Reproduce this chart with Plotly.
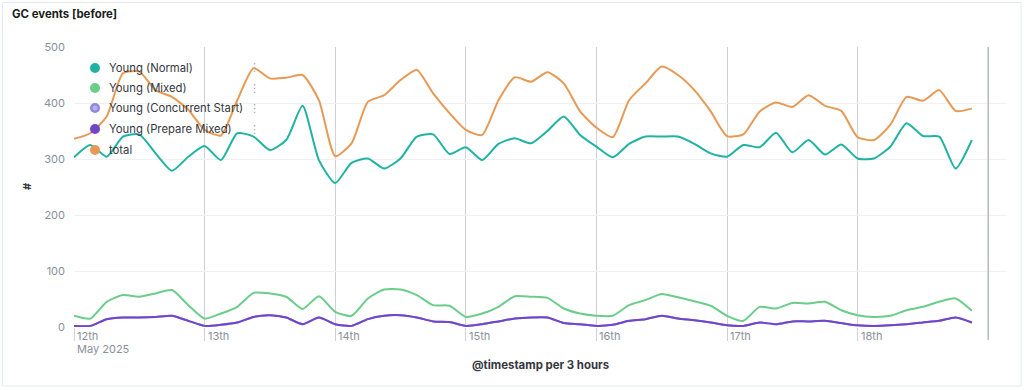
import pandas as pd
import plotly.graph_objects as go

# ---- data (3-hour buckets, 12 May 2025 00:00 -> 18 May 2025 21:00) ----
timestamps = pd.date_range("2025-05-12 00:00", periods=56, freq="3h")

young_normal = [303, 325, 304, 340, 344, 310, 279, 304,
                323, 298, 346, 340, 316, 334, 395, 298,
                257, 293, 301, 283, 301, 340, 344, 309,
                321, 298, 327, 337, 328, 350, 376, 343,
                322, 303, 327, 340, 340, 340, 327, 310,
                304, 325, 321, 347, 312, 334, 308, 326,
                301, 301, 322, 364, 341, 340, 283, 334]

young_mixed = [20, 15, 45, 57, 54, 60, 66, 39,
               15, 24, 36, 61, 60, 54, 32, 55,
               27, 20, 51, 67, 67, 57, 39, 38,
               18, 24, 36, 55, 54, 52, 33, 24,
               20, 20, 39, 48, 59, 53, 46, 38,
               20, 11, 36, 33, 43, 42, 45, 30,
               21, 18, 20, 30, 36, 45, 51, 29]

young_concurrent_start = [2, 2, 14, 17, 17, 18, 20, 11,
                          2, 4, 8, 18, 21, 17, 5, 17,
                          5, 2, 14, 20, 21, 17, 10, 9,
                          2, 5, 10, 15, 17, 17, 7, 5,
                          2, 4, 11, 14, 20, 15, 12, 8,
                          3, 2, 8, 5, 10, 10, 11, 7,
                          3, 2, 3, 5, 8, 11, 17, 8]

young_prepare_mixed = [2, 2, 14, 17, 17, 18, 20, 11,
                       2, 4, 8, 18, 21, 17, 5, 17,
                       5, 2, 14, 20, 21, 17, 10, 9,
                       2, 5, 10, 15, 17, 17, 7, 5,
                       2, 4, 11, 14, 20, 15, 12, 8,
                       3, 2, 8, 5, 10, 10, 11, 7,
                       3, 2, 3, 5, 8, 11, 17, 8]

total = [336, 346, 376, 453, 456, 423, 411, 388,
         352, 342, 405, 462, 444, 445, 450, 405,
         305, 328, 402, 414, 441, 459, 417, 382,
         352, 343, 405, 446, 438, 455, 435, 385,
         356, 339, 405, 435, 465, 450, 423, 385,
         341, 344, 385, 401, 393, 414, 395, 386,
         339, 334, 361, 411, 404, 423, 386, 390]

series_names = ["Young (Normal)", "Young (Mixed)", "Young (Concurrent Start)",
                "Young (Prepare Mixed)", "total"]
series_values = [young_normal, young_mixed, young_concurrent_start,
                 young_prepare_mixed, total]
series_colors = ["#20b3a2", "#6ccd8b", "#8f88e0", "#7146c9", "#e69a55"]

day_ticks = pd.date_range("2025-05-12", "2025-05-18", freq="D")
day_labels = ["12th", "13th", "14th", "15th", "16th", "17th", "18th"]
domain_end = pd.Timestamp("2025-05-19 00:00")

title_text = "GC events [before]"
x_title = "@timestamp per 3 hours"
y_title = "#"

# ---- figure ----
W, H = 1024, 390
L, R, T, B = 74, 17, 47, 63
PW, PH = W - L - R, H - T - B


def px_x(p):
    return (p - L) / PW


def px_y(p):
    return (H - B - p) / PH


FONT = "Inter, Roboto, 'Open Sans', sans-serif"
fig = go.Figure()

for i in range(5):
    fig.add_trace(go.Scatter(
        x=timestamps, y=series_values[i], mode="lines",
        line=dict(color=series_colors[i], width=2, shape="spline", smoothing=0.6),
        name=series_names[i], showlegend=False, hoverinfo="x+y+name"))

annotations = []
shapes = [
    # card border
    dict(type="rect", xref="paper", yref="paper",
         x0=px_x(2.5), x1=px_x(1021), y0=px_y(386), y1=px_y(2.5),
         line=dict(color="#e3e8f2", width=1), fillcolor="rgba(0,0,0,0)",
         layer="below"),
    # domain end line
    dict(type="line", xref="x", yref="paper", x0=domain_end, x1=domain_end,
         y0=px_y(340), y1=1, line=dict(color="#b4b8bf", width=1.5)),
]

# legend (circle markers + labels) inside the plot, top-left
legend_rows = [68, 88, 108, 129, 150]
for k, (name, col, yy) in enumerate(zip(series_names, series_colors, legend_rows)):
    shapes.append(dict(type="circle", xref="paper", yref="paper",
                       xsizemode="pixel", ysizemode="pixel",
                       xanchor=px_x(95), yanchor=px_y(yy),
                       x0=-5, x1=5, y0=-5, y1=5,
                       fillcolor=col, line=dict(width=0)))
    if k == 2:  # hatched look for the concurrent start marker
        shapes.append(dict(type="circle", xref="paper", yref="paper",
                           xsizemode="pixel", ysizemode="pixel",
                           xanchor=px_x(95), yanchor=px_y(yy),
                           x0=-2.5, x1=2.5, y0=-2.5, y1=2.5,
                           fillcolor="rgba(255,255,255,0.35)", line=dict(width=0)))
    annotations.append(dict(x=px_x(107), xref="paper", y=px_y(yy), yref="paper",
                            text=name, showarrow=False, xanchor="left",
                            yanchor="middle",
                            font=dict(family=FONT, size=11.3, color="#343741")))
# legend action icons
for yy in legend_rows[:4]:
    annotations.append(dict(x=px_x(254), xref="paper", y=px_y(yy), yref="paper",
                            text="⋮", showarrow=False, xanchor="center",
                            yanchor="middle",
                            font=dict(family="DejaVu Sans", size=11, color="#98a2b3")))

# x tick labels (left aligned next to the day gridline)
for d, lab in zip(day_ticks, day_labels):
    annotations.append(dict(x=d, xref="x", y=px_y(336), yref="paper",
                            text=lab, showarrow=False, xanchor="left",
                            yanchor="middle", xshift=1,
                            font=dict(family=FONT, size=11, color="#8a909b")))
annotations.append(dict(x=day_ticks[0], xref="x", y=px_y(349), yref="paper",
                        text="May 2025", showarrow=False, xanchor="left",
                        yanchor="middle", xshift=1,
                        font=dict(family=FONT, size=11, color="#8a909b")))
# titles
annotations.append(dict(x=px_x(10), xref="paper", y=px_y(14), yref="paper",
                        text="<b>" + title_text + "</b>", showarrow=False,
                        xanchor="left", yanchor="middle",
                        font=dict(family=FONT, size=11.4, color="#1a1c21")))
annotations.append(dict(x=px_x(540), xref="paper", y=px_y(365), yref="paper",
                        text="<b>" + x_title + "</b>", showarrow=False,
                        xanchor="center", yanchor="middle",
                        font=dict(family=FONT, size=11.4, color="#343741")))
annotations.append(dict(x=px_x(27), xref="paper", y=0.5, yref="paper",
                        text="<b>" + y_title + "</b>", showarrow=False,
                        textangle=-90, xanchor="center", yanchor="middle",
                        font=dict(family=FONT, size=11, color="#343741")))

fig.update_layout(
    width=W, height=H, autosize=False,
    margin=dict(l=L, r=R, t=T, b=B, pad=0),
    paper_bgcolor="white", plot_bgcolor="white",
    font=dict(family=FONT, size=11, color="#69707d"),
    showlegend=False,
    xaxis=dict(type="date",
               range=["2025-05-12 00:00", "2025-05-19 03:27"],
               tickvals=day_ticks, showticklabels=False,
               showgrid=True, gridcolor="#cfd3d9", gridwidth=1,
               ticks="outside", ticklen=13, tickcolor="#cfd3d9", tickwidth=1,
               zeroline=False, showline=False, fixedrange=True),
    yaxis=dict(range=[0, 500], tickvals=[0, 100, 200, 300, 400, 500],
               showgrid=True, gridcolor="#eef0f4", gridwidth=1,
               zeroline=False, showline=False, ticks="",
               ticklabelstandoff=8,
               tickfont=dict(family=FONT, size=11, color="#8a909b"),
               fixedrange=True),
    annotations=annotations, shapes=shapes,
)

fig.write_html("out.html",
               config={"displayModeBar": False},
               post_script="document.body.style.margin='0';document.body.style.overflow='hidden';")
